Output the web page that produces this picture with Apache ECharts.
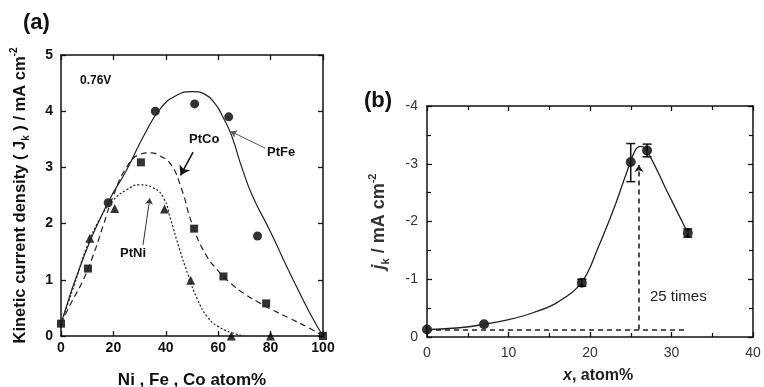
<!DOCTYPE html>
<html><head><meta charset="utf-8">
<script src="https://cdn.jsdelivr.net/npm/echarts@6/dist/echarts.min.js"></script>
<style>html,body{margin:0;padding:0;background:#fff}#c{width:764px;height:387px}</style>
</head><body><div id="c"></div>
<script>
// ---------- Panel (a) data ----------
const aXTicks = [0, 20, 40, 60, 80, 100];
const aYTicks = [0, 1, 2, 3, 4, 5];
// measured points
const feX = [18, 36, 51, 64, 75];
const feY = [2.37, 4.0, 4.13, 3.9, 1.78];
const coX = [0, 10.3, 30.5, 50.8, 62, 78.3, 100];
const coY = [0.22, 1.2, 3.09, 1.91, 1.06, 0.58, 0];
const niX = [11, 20.5, 39.5, 49.5, 65, 80];
const niY = [1.74, 2.27, 2.26, 0.99, 0, 0];
// fitted curves
const feCurveX = [0, 9, 18, 25, 32, 38, 44, 50, 55, 59, 62, 65, 69, 73, 80, 86, 92, 96, 100];
const feCurveY = [0.22, 1.45, 2.38, 2.95, 3.6, 4.05, 4.28, 4.35, 4.3, 4.12, 3.88, 3.58, 3.0, 2.5, 1.85, 1.25, 0.68, 0.32, 0];
const coCurveX = [0, 4, 8, 12, 16, 20, 25, 30, 34, 38, 42, 46, 50, 55, 60, 65, 70, 75, 80, 87, 94, 100];
const coCurveY = [0.22, 0.6, 0.95, 1.4, 1.95, 2.5, 3.0, 3.23, 3.26, 3.2, 3.05, 2.62, 2.0, 1.47, 1.16, 0.93, 0.75, 0.61, 0.48, 0.32, 0.16, 0];
const niCurveX = [0, 5, 10, 15, 20, 25, 30, 35, 39, 42, 45, 48.5, 52, 56, 60, 65, 70];
const niCurveY = [0.22, 0.9, 1.6, 2.1, 2.42, 2.6, 2.69, 2.64, 2.47, 2.05, 1.58, 1.09, 0.66, 0.33, 0.17, 0.06, 0];

// ---------- Panel (b) data ----------
const bXTicks = [0, 10, 20, 30, 40];
const bYTicks = [-4, -3, -2, -1, 0];
const bPtX = [0, 7, 19, 25, 27, 32];
const bPtY = [-0.13, -0.22, -0.94, -3.03, -3.23, -1.8];
const bErrX = [19, 25, 27, 32];
const bErrLo = [-0.88, -2.69, -3.12, -1.73];
const bErrHi = [-1.0, -3.35, -3.34, -1.87];
const bCurveX = [0, 4, 7, 10, 13, 16, 19, 21, 23, 24.5, 25.5, 26.2, 27, 29.5, 32];
const bCurveY = [-0.13, -0.16, -0.22, -0.3, -0.42, -0.6, -0.95, -1.55, -2.25, -2.85, -3.22, -3.3, -3.22, -2.51, -1.8];

const zip = (xs, ys) => xs.map((x, i) => [x, ys[i]]);
const FF = 'Liberation Sans, Arial, sans-serif';

const chart = echarts.init(document.getElementById('c'), null, {renderer: 'canvas'});

function frameAxes(gridIndex, pos, min, max, interval, showLabel, labelStyle, minor, extra) {
  return Object.assign({
    type: 'value', gridIndex, position: pos, min, max, interval,
    axisLine: {show: true, onZero: false, lineStyle: {color: '#111', width: 1.5}},
    axisTick: {show: true, inside: true, length: 5, lineStyle: {color: '#111', width: 1.3}},
    minorTick: minor ? {show: true, splitNumber: 2, length: 4, lineStyle: {color: '#111', width: 1.2}} : {show: false},
    splitLine: {show: false},
    axisLabel: Object.assign({show: showLabel, fontFamily: FF}, labelStyle),
  }, extra || {});
}

const aLabel = {fontSize: 14, fontWeight: 'bold', color: '#111'};
const bLabel = {fontSize: 14, color: '#333'};

const option = {
  animation: false,
  grid: [
    {left: 61, top: 55, width: 262, height: 281, outerBoundsMode: 'none', containLabel: false},
    {left: 427, top: 106, width: 326, height: 231, outerBoundsMode: 'none', containLabel: false}
  ],
  xAxis: [
    frameAxes(0, 'bottom', 0, 100, 20, true, Object.assign({margin: 5}, aLabel), false, {
      name: 'Ni , Fe , Co atom%', nameLocation: 'middle', nameGap: 36,
      nameTextStyle: {fontFamily: FF, fontSize: 17, fontWeight: 'bold', color: '#111'}
    }),
    frameAxes(0, 'top', 0, 100, 20, false, {}, false),
    frameAxes(1, 'bottom', 0, 40, 10, true, Object.assign({margin: 9}, bLabel), true),
    frameAxes(1, 'top', 0, 40, 10, false, {}, true)
  ],
  yAxis: [
    frameAxes(0, 'left', 0, 5, 1, true, Object.assign({margin: 8}, aLabel), false, {
      name: 'Kinetic current density ( J{sub|k} ) / mA cm{sup|-2}', nameLocation: 'middle', nameGap: 30,
      nameTextStyle: {fontFamily: FF, fontSize: 16.5, fontWeight: 'bold', color: '#111', lineHeight: 22,
        rich: {
          sub: {fontFamily: FF, fontSize: 10, fontWeight: 'bold', color: '#111', lineHeight: 12, verticalAlign: 'bottom'},
          sup: {fontFamily: FF, fontSize: 10, fontWeight: 'bold', color: '#111', lineHeight: 12, verticalAlign: 'top'}
        }}
    }),
    frameAxes(0, 'right', 0, 5, 1, false, {}, false),
    frameAxes(1, 'left', -4, 0, 1, true, Object.assign({margin: 9}, bLabel), true, {
      inverse: true,
      name: '{it|j}{sub|k} / mA cm{sup|-2}', nameLocation: 'middle', nameGap: 36,
      nameTextStyle: {fontFamily: FF, fontSize: 18, fontWeight: 'bold', color: '#333', lineHeight: 24,
        rich: {
          it: {fontFamily: FF, fontSize: 18, fontWeight: 'bold', fontStyle: 'italic', color: '#333', lineHeight: 24},
          sub: {fontFamily: FF, fontSize: 11, color: '#333', lineHeight: 13, verticalAlign: 'bottom'},
          sup: {fontFamily: FF, fontSize: 11, fontWeight: 'bold', color: '#333', lineHeight: 13, verticalAlign: 'top'}
        }}
    }),
    frameAxes(1, 'right', -4, 0, 1, false, {}, true, {inverse: true})
  ],
  series: [
    // Panel a curves
    {type: 'line', xAxisIndex: 0, yAxisIndex: 0, data: zip(feCurveX, feCurveY), smooth: 0.5, showSymbol: false, silent: true,
      lineStyle: {color: '#222', width: 1.2},
      markLine: {silent: true, symbol: ['none', 'arrow'], symbolSize: 6, label: {show: false},
        lineStyle: {color: '#555', width: 1, type: 'solid'},
        data: [[{coord: [78, 3.34]}, {coord: [64.8, 3.64]}]]}},
    {type: 'line', xAxisIndex: 0, yAxisIndex: 0, data: zip(coCurveX, coCurveY), smooth: 0.5, showSymbol: false, silent: true,
      lineStyle: {color: '#222', width: 1.2, type: [6, 4]},
      markLine: {silent: true, symbol: ['none', 'arrow'], symbolSize: 9, label: {show: false},
        lineStyle: {color: '#111', width: 1.5, type: 'solid'},
        data: [[{coord: [50.4, 3.27]}, {coord: [45.6, 2.86]}]]}},
    {type: 'line', xAxisIndex: 0, yAxisIndex: 0, data: zip(niCurveX, niCurveY), smooth: 0.5, showSymbol: false, silent: true,
      lineStyle: {color: '#222', width: 1.2, type: [2, 2]},
      markLine: {silent: true, symbol: ['none', 'arrow'], symbolSize: 6, label: {show: false},
        lineStyle: {color: '#333', width: 1, type: 'solid'},
        data: [[{coord: [31.3, 1.62]}, {coord: [33.9, 2.45]}]]}},
    // Panel a markers
    {type: 'scatter', xAxisIndex: 0, yAxisIndex: 0, data: zip(feX, feY), symbol: 'circle', symbolSize: 9, clip: false, silent: true,
      itemStyle: {color: '#000'}},
    {type: 'scatter', xAxisIndex: 0, yAxisIndex: 0, data: zip(coX, coY), symbol: 'rect', symbolSize: 8, clip: false, silent: true,
      itemStyle: {color: '#000'}},
    {type: 'scatter', xAxisIndex: 0, yAxisIndex: 0, data: zip(niX, niY), symbol: 'triangle', symbolSize: 9, clip: false, silent: true,
      itemStyle: {color: '#000'}},
    // Panel b curve
    {type: 'line', xAxisIndex: 2, yAxisIndex: 2, data: zip(bCurveX, bCurveY), smooth: 0.4, showSymbol: false, silent: true,
      lineStyle: {color: '#222', width: 1.3},
      markLine: {silent: true, symbol: ['none', 'none'], label: {show: false},
        lineStyle: {color: '#222', width: 1.6, type: [5, 4]},
        data: [
          [{coord: [0, -0.13]}, {coord: [31.6, -0.13]}],
          [{coord: [26, -0.13], symbol: 'none'}, {coord: [26, -2.98], symbol: 'arrow', symbolSize: 7}]
        ]}},
    // Panel b error bars
    {type: 'custom', xAxisIndex: 2, yAxisIndex: 2, silent: true, clip: false,
      data: bErrX.map((x, i) => [x, bErrLo[i], bErrHi[i]]),
      renderItem: function (params, api) {
        const lo = api.coord([api.value(0), api.value(1)]);
        const hi = api.coord([api.value(0), api.value(2)]);
        const w = 4.5;
        const st = {stroke: '#111', lineWidth: 1.5};
        return {type: 'group', children: [
          {type: 'line', shape: {x1: lo[0], y1: lo[1], x2: hi[0], y2: hi[1]}, style: st},
          {type: 'line', shape: {x1: lo[0] - w, y1: lo[1], x2: lo[0] + w, y2: lo[1]}, style: st},
          {type: 'line', shape: {x1: hi[0] - w, y1: hi[1], x2: hi[0] + w, y2: hi[1]}, style: st}
        ]};
      }},
    // Panel b markers
    {type: 'scatter', xAxisIndex: 2, yAxisIndex: 2, data: zip(bPtX, bPtY), symbol: 'circle', symbolSize: 10, clip: false, silent: true,
      itemStyle: {color: '#000'}}
  ],
  graphic: [
    {type: 'text', left: 23, top: 12, style: {text: '(a)', fontFamily: FF, fontSize: 22, fontWeight: 'bold', fill: '#111'}},
    {type: 'text', left: 364, top: 90, style: {text: '(b)', fontFamily: FF, fontSize: 22, fontWeight: 'bold', fill: '#111'}},
    {type: 'text', left: 80, top: 75, style: {text: '0.76V', fontFamily: FF, fontSize: 12, fontWeight: 'bold', fill: '#111'}},
    {type: 'text', left: 189, top: 133, style: {text: 'PtCo', fontFamily: FF, fontSize: 13, fontWeight: 'bold', fill: '#111'}},
    {type: 'text', left: 267, top: 146, style: {text: 'PtFe', fontFamily: FF, fontSize: 13, fontWeight: 'bold', fill: '#111'}},
    {type: 'text', left: 120, top: 247, style: {text: 'PtNi', fontFamily: FF, fontSize: 13, fontWeight: 'bold', fill: '#111'}},
    {type: 'text', left: 650, top: 289, style: {text: '25 times', fontFamily: FF, fontSize: 15, fill: '#222'}},
    {type: 'text', left: 563, top: 368, style: {
      text: '{it|x}{n|, atom%}', fontFamily: FF, fontSize: 16, fontWeight: 'bold', fill: '#222',
      rich: {it: {fontFamily: FF, fontSize: 16, fontWeight: 'bold', fontStyle: 'italic', fill: '#222'},
             n: {fontFamily: FF, fontSize: 16, fontWeight: 'bold', fill: '#222'}}}}
  ]
};
chart.setOption(option);
</script></body></html>
